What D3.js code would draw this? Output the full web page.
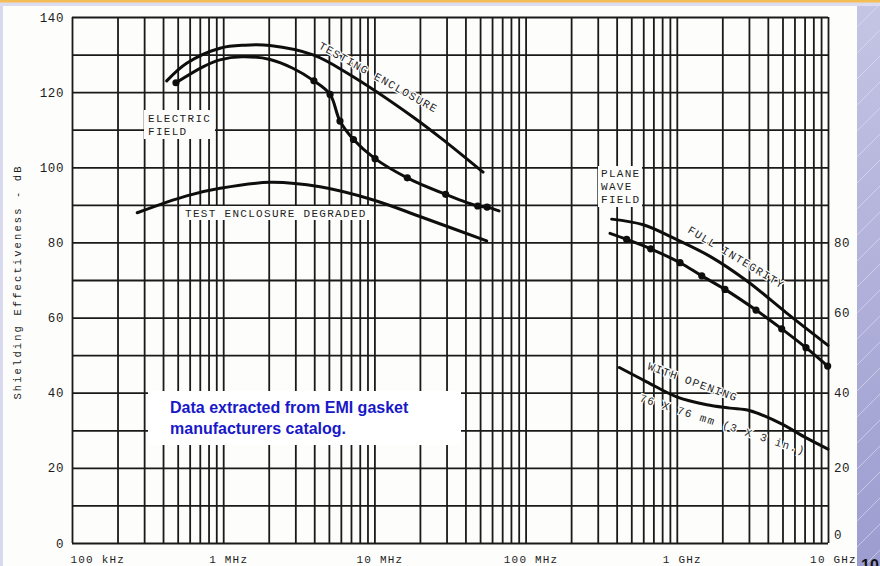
<!DOCTYPE html>
<html><head><meta charset="utf-8">
<script src="https://cdn.jsdelivr.net/npm/d3@7"></script>
<style>
html,body{margin:0;padding:0;background:#fff;overflow:hidden;}
svg{display:block;}
.mono{font-family:"Liberation Mono","DejaVu Sans Mono",monospace;fill:#1e1e1e;}
</style></head><body>
<svg id="c" width="880" height="566"></svg>
<script>
// ---------- DATA ----------
const decadeFreqs  = [1e5, 1e6, 1e7, 1e8, 1e9, 1e10];           // Hz
const decadeLabels = ["100 kHz", "1 MHz", "10 MHz", "100 MHz", "1 GHz", "10 GHz"];
const leftTicks  = [0, 20, 40, 60, 80, 100, 120, 140];           // dB
const rightTicks = [0, 20, 40, 60, 80];                          // dB (plane wave scale)
const yTitle = "Shielding Effectiveness - dB";

// Electric field, testing enclosure (MHz, dB)
const testEncFreq = [0.423, 0.573, 0.952, 1.39, 2.04, 3.93, 6.59, 18.0, 30.2, 52.3];
const testEncDB   = [123.0, 127.7, 131.7, 132.5, 132.4, 129.9, 125.1, 113.4, 106.5, 98.7];

// Electric field, measured (dotted) curve
const elecFreq = [0.487, 0.74, 0.95, 1.33, 2.04, 2.91, 3.98, 5.09, 5.92, 7.27, 10.1, 16.5, 29.6, 48.2, 55.6, 66.7];
const elecDB   = [122.5, 126.8, 128.6, 129.4, 128.7, 126.3, 123.0, 119.4, 112.3, 107.4, 102.3, 97.2, 92.8, 89.7, 89.4, 88.4];
const elecDotFreq = [0.487, 3.98, 5.09, 5.92, 7.27, 10.1, 16.5, 29.6, 48.2, 55.6];
const elecDotDB   = [122.5, 123.0, 119.4, 112.3, 107.4, 102.3, 97.2, 92.8, 89.7, 89.4];

// Test enclosure degraded
const degrFreq = [0.270, 0.573, 0.952, 2.04, 4.37, 9.84, 20.0, 55.3];
const degrDB   = [87.9, 92.4, 94.4, 96.0, 94.8, 91.3, 86.9, 80.4];

// Plane wave, full integrity (upper)
const pwFullFreq = [371, 600, 948, 1659, 2898, 5333, 10000];
const pwFullDB   = [86.2, 84.7, 81.2, 76.3, 69.8, 61.2, 52.6];

// Plane wave, measured (dotted)
const pwMeasFreq = [361.5, 466, 672, 1050, 1462, 2083, 3340, 4940, 7150, 9950];
const pwMeasDB   = [82.4, 80.8, 78.3, 74.6, 71.1, 67.5, 62.0, 57.0, 52.0, 47.1];
const pwDotFreq  = [466, 672, 1050, 1462, 2083, 3340, 4940, 7150, 9950];
const pwDotDB    = [80.8, 78.3, 74.6, 71.1, 67.5, 62.0, 57.0, 52.0, 47.1];

// Plane wave, with 76 x 76 mm opening
const openFreq = [417, 632, 998, 1577, 2248, 3049, 4815, 7230, 10000];
const openDB   = [46.7, 42.9, 38.9, 36.8, 35.9, 35.2, 31.9, 27.9, 25.0];

// ---------- DRAW ----------
const svg = d3.select("#c");
const W = 880, H = 566;
const L = 72, R = 828, T = 17, B = 543;

const defs = svg.append("defs");
const grad = defs.append("linearGradient").attr("id","panel").attr("x1",0).attr("y1",0).attr("x2",0).attr("y2",1);
grad.append("stop").attr("offset","0%").attr("stop-color","#c4c4e4");
grad.append("stop").attr("offset","100%").attr("stop-color","#9c9cd0");
const pat = defs.append("pattern").attr("id","stripes").attr("patternUnits","userSpaceOnUse")
  .attr("width",26).attr("height",26);
pat.append("path").attr("d","M0,26 L26,0").attr("stroke","#e4e4f6").attr("stroke-width",0.8).attr("opacity",0.7);

// slide background
svg.append("rect").attr("width",W).attr("height",H).attr("fill","#fdfdfc");
svg.append("rect").attr("x",0).attr("y",0).attr("width",W).attr("height",6).attr("fill","#dcdcf0");
svg.append("rect").attr("x",0).attr("y",0).attr("width",W).attr("height",2.5).attr("fill","#f5bd55");
svg.append("rect").attr("x",0).attr("y",6).attr("width",3).attr("height",H).attr("fill","#d8d8ee");
svg.append("rect").attr("x",857).attr("y",6).attr("width",W-857).attr("height",H).attr("fill","url(#panel)");
svg.append("rect").attr("x",857).attr("y",6).attr("width",W-857).attr("height",H).attr("fill","url(#stripes)");

const x = d3.scaleLog().domain([1e5, 1e10]).range([L, R]);
const y = d3.scaleLinear().domain([0, 140]).range([B, T]);

// grid: vertical lines at 1..9 x each decade
const gridFreqs = [];
decadeFreqs.slice(0, 5).forEach(d => { for (let k = 1; k <= 9; k++) gridFreqs.push(d * k); });
gridFreqs.push(1e10);
const gridDB = d3.range(0, 141, 10);

const gridColor = "#1a1a1a";
svg.append("g").attr("transform", `translate(0,${B})`)
  .call(d3.axisBottom(x).tickValues(gridFreqs).tickSize(-(B - T)).tickFormat(""))
  .call(g => g.select(".domain").remove())
  .call(g => g.selectAll("line").attr("stroke", gridColor).attr("stroke-width", 1.8));
svg.append("g").attr("transform", `translate(${L},0)`)
  .call(d3.axisLeft(y).tickValues(gridDB).tickSize(-(R - L)).tickFormat(""))
  .call(g => g.select(".domain").remove())
  .call(g => g.selectAll("line").attr("stroke", gridColor).attr("stroke-width", 1.8));

// white boxes behind flat labels (paper label masks)
const mask = (x0, y0, w, h) => svg.append("rect").attr("x", x0).attr("y", y0).attr("width", w).attr("height", h).attr("fill", "#fdfdfc");
mask(144, 110, 71, 29);
mask(181, 206, 189, 14);
mask(598, 166, 44, 41);

// tick labels
svg.append("g").attr("transform", `translate(${L - 8},0)`)
  .call(d3.axisLeft(y).tickValues(leftTicks).tickSize(0).tickFormat(d => d))
  .call(g => g.select(".domain").remove())
  .call(g => g.selectAll("text").attr("class", "mono").attr("font-size", 12.5).attr("letter-spacing", 0.6)
      .attr("dy", "0.32em").attr("x", 0));
svg.append("g").attr("transform", `translate(${R + 6},0)`)
  .call(d3.axisRight(y).tickValues(rightTicks).tickSize(0).tickFormat(d => d))
  .call(g => g.select(".domain").remove())
  .call(g => g.selectAll("text").attr("class", "mono").attr("font-size", 12.5).attr("letter-spacing", 0.6)
      .attr("dy", d => d === 0 ? "-0.35em" : d === 60 ? "-0.1em" : "0.32em").attr("x", 0));

svg.append("g").attr("transform", `translate(0,${H - 3})`)
  .call(d3.axisBottom(x).tickValues(decadeFreqs).tickSize(0).tickFormat((d, i) => decadeLabels[i]))
  .call(g => g.select(".domain").remove())
  .call(g => g.selectAll("text").attr("class", "mono").attr("font-size", 11).attr("letter-spacing", 1.2)
      .attr("y", 0).attr("dy", 0)
      .attr("text-anchor", (d, i) => i === 0 ? "start" : "middle")
      .attr("dx", (d, i) => i === 0 ? -2 : 5));

svg.append("text").attr("class", "mono").attr("font-size", 10.5).attr("letter-spacing", 2.1)
  .attr("transform", "translate(21,282) rotate(-90)").attr("text-anchor", "middle").text(yTitle);

// curves
const line = d3.line().x(d => x(d[0] * 1e6)).y(d => y(d[1])).curve(d3.curveCatmullRom.alpha(0.5));
const zip = (a, b) => a.map((v, i) => [v, b[i]]);
const curves = [
  zip(testEncFreq, testEncDB), zip(elecFreq, elecDB), zip(degrFreq, degrDB),
  zip(pwFullFreq, pwFullDB), zip(pwMeasFreq, pwMeasDB), zip(openFreq, openDB)
];
svg.append("g").selectAll("path").data(curves).join("path")
  .attr("d", line).attr("fill", "none").attr("stroke", "#0e0e0e").attr("stroke-width", 3)
  .attr("stroke-linecap", "round").attr("stroke-linejoin", "round");

const dots = zip(elecDotFreq, elecDotDB).concat(zip(pwDotFreq, pwDotDB));
svg.append("g").selectAll("circle").data(dots).join("circle")
  .attr("cx", d => x(d[0] * 1e6)).attr("cy", d => y(d[1])).attr("r", 3.6).attr("fill", "#0e0e0e");

// annotations
const lab = (t, px, py, rot, opts = {}) => {
  const el = svg.append("text").attr("class", "mono").attr("font-size", 11).attr("letter-spacing", 1.3)
    .attr("transform", `translate(${px},${py}) rotate(${rot})`).text(t);
  if (opts.halo) el.attr("stroke", "#fdfdfc").attr("stroke-width", 2.5).attr("paint-order", "stroke");
  return el;
};
lab("ELECTRIC", 148, 122, 0);
lab("FIELD", 148, 135, 0);
lab("TEST ENCLOSURE DEGRADED", 185, 217, 0);
lab("PLANE", 601, 177, 0);
lab("WAVE", 601, 190, 0);
lab("FIELD", 601, 203, 0);
lab("TESTING ENCLOSURE", 318, 48, 29, {halo: true});
lab("FULL INTEGRITY", 687, 232, 31, {halo: true});
lab("WITH OPENING", 647, 369, 20, {halo: true});
lab("76 X 76 mm (3 X 3 in.)", 639, 401, 18, {halo: true});

// overlay note box
svg.append("rect").attr("x", 148).attr("y", 391).attr("width", 313).attr("height", 54).attr("fill", "#ffffff");
const note = svg.append("text").attr("font-family", "Arial, 'Liberation Sans', sans-serif")
  .attr("font-weight", "bold").attr("font-size", 16).attr("fill", "#1818c8");
note.append("tspan").attr("x", 170).attr("y", 413).text("Data extracted from EMI gasket");
note.append("tspan").attr("x", 170).attr("y", 434).text("manufacturers catalog.");

// slide page number (partly cut off by the slide edge, as in the reference)
svg.append("text").attr("x", 861).attr("y", 571).attr("font-family", "Arial, 'Liberation Sans', sans-serif")
  .attr("font-weight", "bold").attr("font-size", 16).attr("fill", "#111").text("10");
</script>
</body></html>
